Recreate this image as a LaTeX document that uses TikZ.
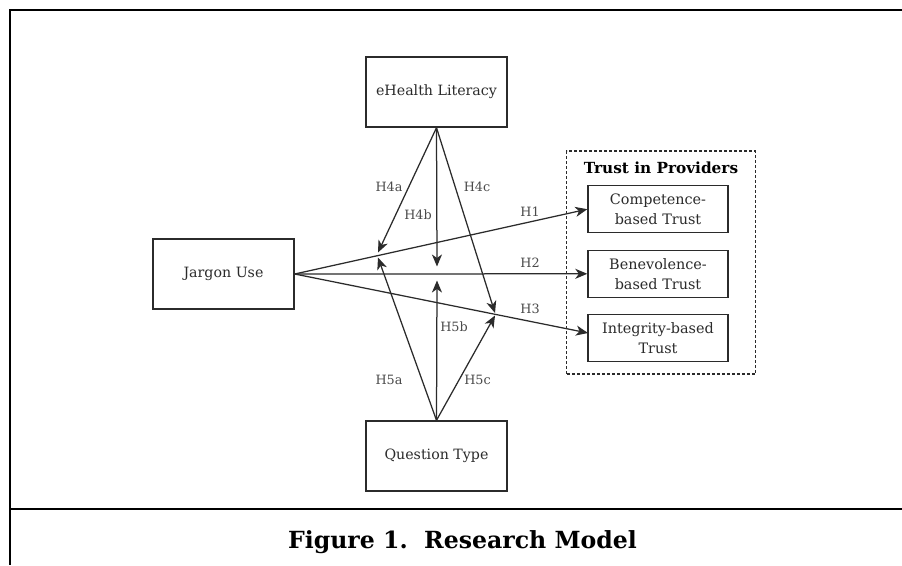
\documentclass[tikz,border=0pt]{standalone}
\usepackage{fontspec}
\setmainfont{DejaVu Serif}
\usetikzlibrary{arrows.meta,calc}
\definecolor{ink}{HTML}{2B2B2B}
\tikzset{
  every node/.style={text=ink},
  box/.style={draw=ink, line width=1.4pt, minimum width=141pt, minimum height=70pt, inner sep=0pt, font=\fontsize{14.2}{17}\selectfont},
  tbox/.style={draw=ink, line width=1.4pt, minimum width=140pt, minimum height=47pt, inner sep=0pt, align=center, font=\fontsize{14.4}{20}\selectfont},
  hlab/.style={font=\fontsize{12.8}{14}\selectfont, text=ink!85, inner sep=0pt},
  conn/.style={draw=ink, line width=1.25pt, -{Stealth[length=12pt,width=10pt,inset=3.5pt]}},
}
\begin{document}
\begin{tikzpicture}[x=1pt,y=-1pt]
\useasboundingbox (0,0) rectangle (902,565);
\fill[white] (0,0) rectangle (902,565);
% frame
\draw[line width=2pt, black] (902,10) -- (10,10) -- (10,565);
\draw[line width=2pt, black] (10,509) -- (902,509);
% main nodes
\node[box] (eh) at (436.5,92) {eHealth Literacy};
\node[box] (ju) at (223.5,274) {Jargon Use};
\node[box] (qt) at (436.5,456) {Question Type};
% trust group
\node[draw=ink, dashed, dash pattern=on 3pt off 2pt, line width=1.1pt, minimum width=188.5pt, minimum height=223pt, inner sep=0pt] (grp) at (661,262.5) {};
\node[font=\bfseries\fontsize{15.3}{18}\selectfont, text=black] (ttl) at (661,168) {Trust in Providers};
\node[tbox] (ct) at (658,209.2) {Competence-\\based Trust};
\node[tbox] (bt) at (658,273.8) {Benevolence-\\based Trust};
\node[tbox] (it) at (658,338.2) {Integrity-based\\Trust};
% coordinates
\coordinate (h3e) at (588,333);
\coordinate (a4) at (378,252.5);
\coordinate (a5) at (378,257.5);
\coordinate (b4) at (437,266.5);
\coordinate (b5) at (437,280.5);
\coordinate (c4) at (495,313);
\coordinate (c5) at (495,315.5);
% direct arrows
\draw[conn] (ju.east) -- (ct.west);
\draw[conn] (ju.east) -- (bt.west);
\draw[conn] (ju.east) -- (h3e);
% moderator arrows
\draw[conn] (eh.south) -- (a4);
\draw[conn] (eh.south) -- (b4);
\draw[conn] (eh.south) -- (c4);
\draw[conn] (qt.north) -- (a5);
\draw[conn] (qt.north) -- (b5);
\draw[conn] (qt.north) -- (c5);
% labels
\node[hlab] (l4a) at (389,187) {H4a};
\node[hlab] (l4b) at (418,215) {H4b};
\node[hlab] (l4c) at (477,187) {H4c};
\node[hlab] (l1) at (530,212) {H1};
\node[hlab] (l2) at (530,263) {H2};
\node[hlab] (l3) at (530,309) {H3};
\node[hlab] (l5a) at (389,380) {H5a};
\node[hlab] (l5b) at (454,327) {H5b};
\node[hlab] (l5c) at (477.5,380) {H5c};
% caption
\node[font=\bfseries\fontsize{23.6}{28}\selectfont, text=black] (cap) at (462.5,542) {Figure 1.\ \ Research Model};
\end{tikzpicture}
\end{document}
